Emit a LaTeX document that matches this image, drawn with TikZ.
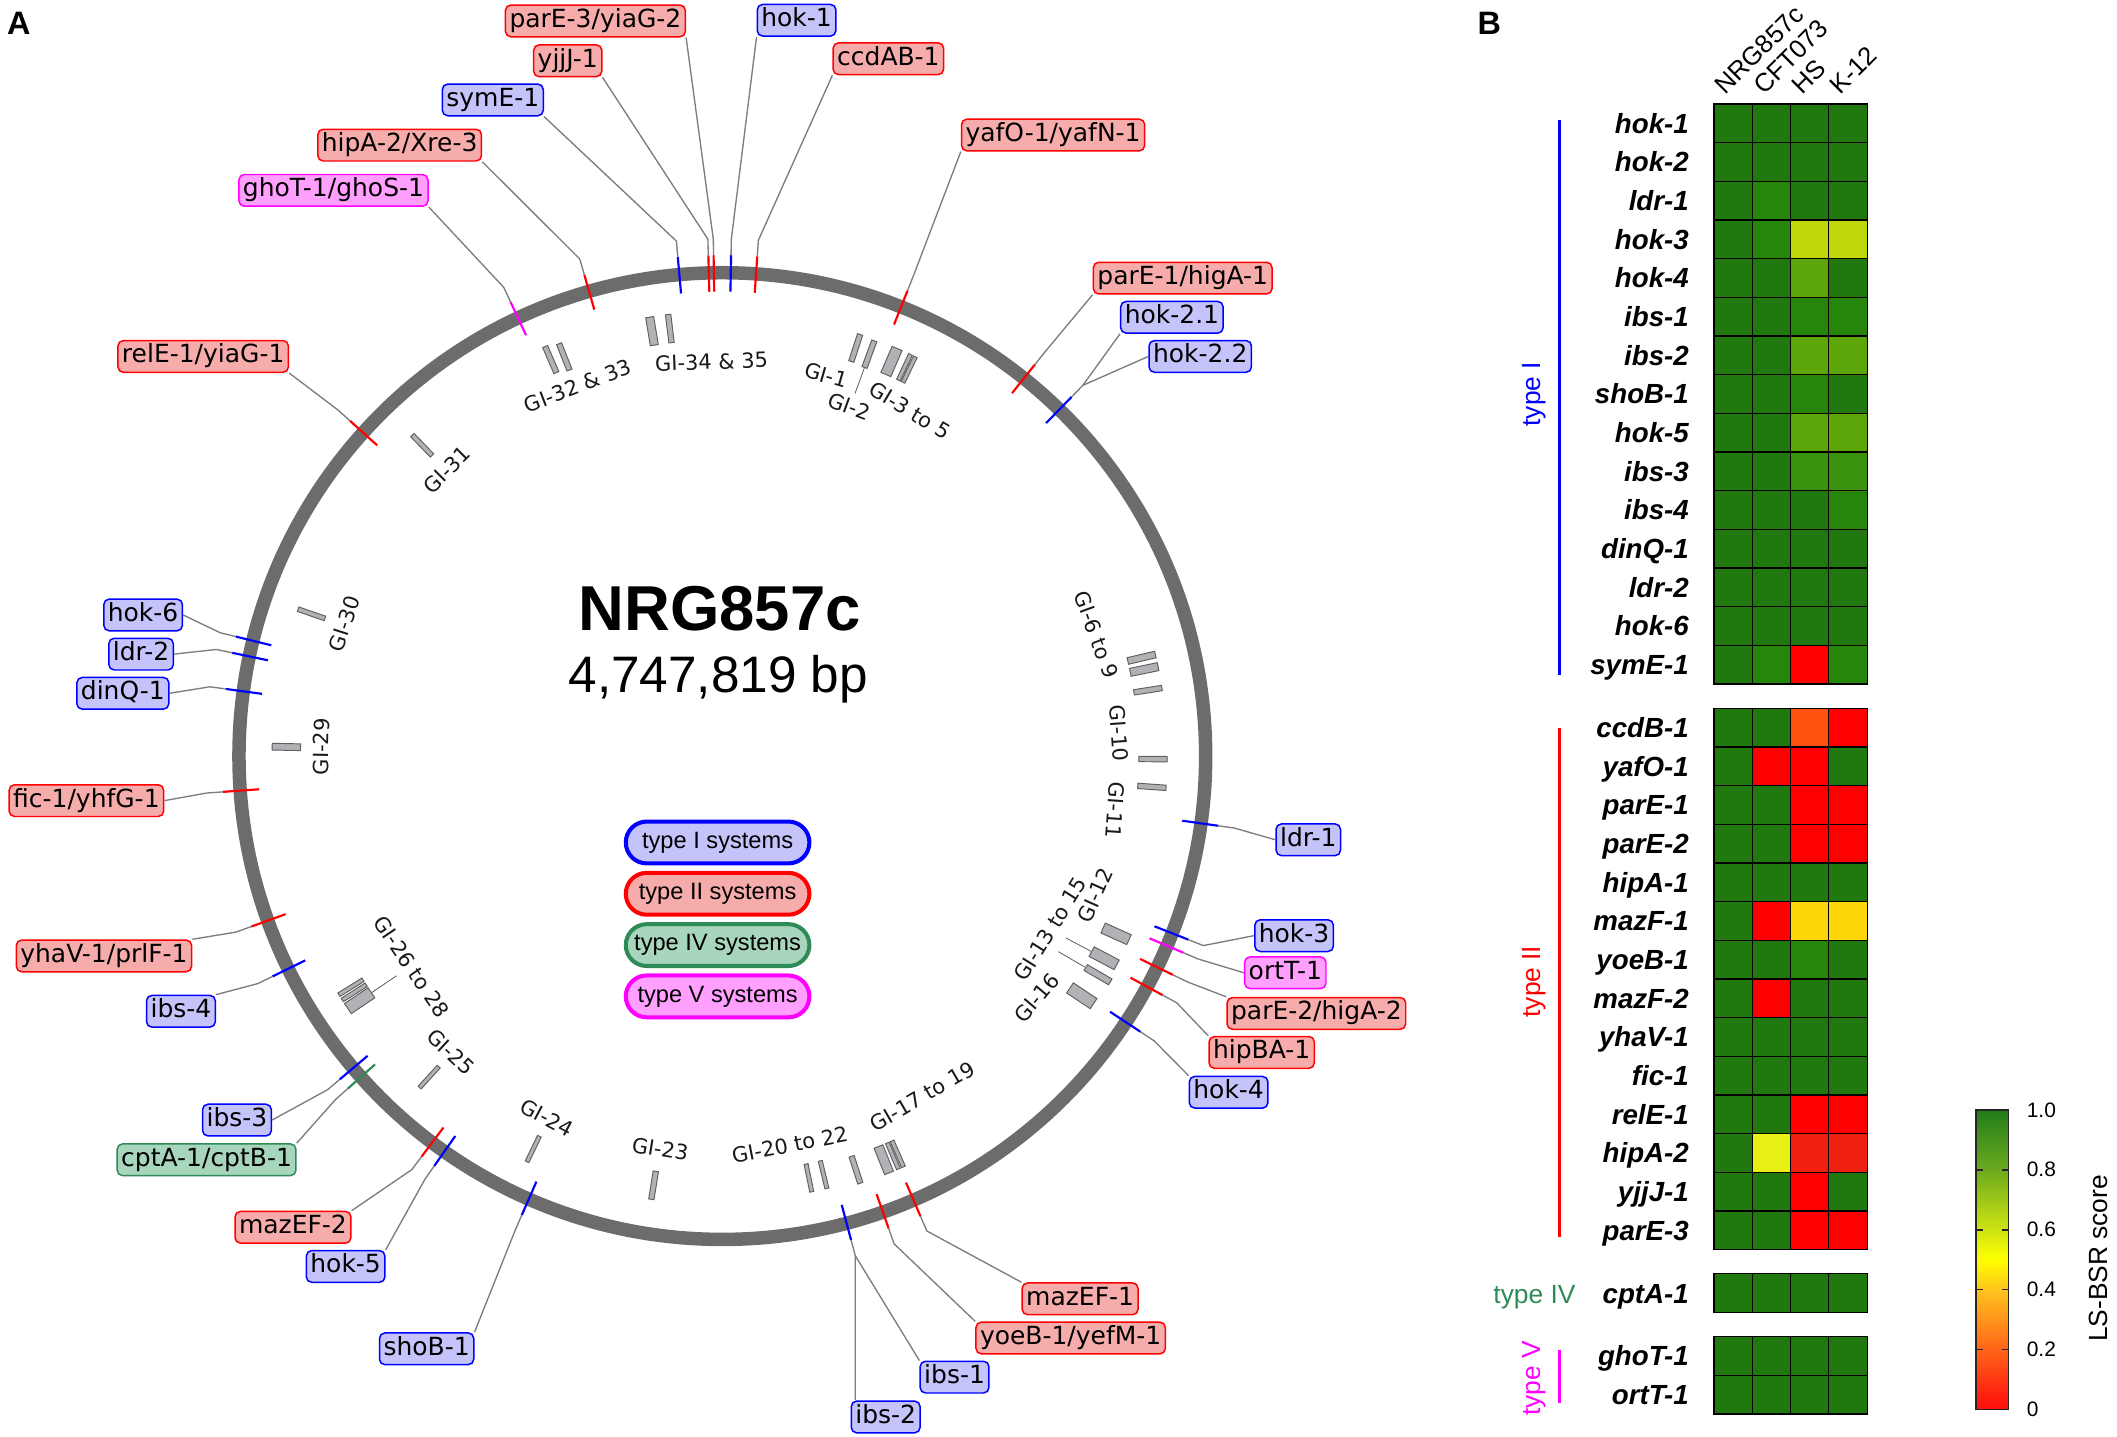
\documentclass[tikz,border=0pt]{standalone}
\usepackage{fontspec}
\setmainfont{Liberation Sans}
\newfontfamily\dvfont{DejaVu Sans}
\usetikzlibrary{shapes.misc}
\definecolor{ringgray}{RGB}{108,108,108}
\definecolor{lblue}{RGB}{196,196,250}
\definecolor{lred}{RGB}{247,172,172}
\definecolor{lmag}{RGB}{255,160,255}
\definecolor{lgreen}{RGB}{168,214,188}
\definecolor{tblue}{RGB}{0,0,255}
\definecolor{tred}{RGB}{255,0,0}
\definecolor{tmag}{RGB}{255,0,255}
\definecolor{tgreen}{RGB}{46,139,87}
\definecolor{conngray}{RGB}{125,125,125}
\definecolor{gibord}{RGB}{95,95,95}
\definecolor{gifill}{RGB}{178,178,182}
\definecolor{gitext}{RGB}{25,25,25}
\definecolor{hD}{RGB}{33,120,14}
\definecolor{hM}{RGB}{38,134,10}
\definecolor{hMt}{RGB}{56,146,14}
\definecolor{hL}{RGB}{93,166,10}
\definecolor{hYG}{RGB}{190,216,12}
\definecolor{hR}{RGB}{255,0,0}
\definecolor{hRt}{RGB}{240,32,16}
\definecolor{hOR}{RGB}{255,82,16}
\definecolor{hGO}{RGB}{255,214,10}
\definecolor{hYE}{RGB}{232,240,22}
\definecolor{cbA}{RGB}{255,12,12}
\definecolor{cbB}{RGB}{255,100,24}
\definecolor{cbC}{RGB}{255,196,30}
\definecolor{cbD}{RGB}{255,255,0}
\definecolor{cbE}{RGB}{205,228,18}
\definecolor{cbF}{RGB}{108,170,30}
\definecolor{cbG}{RGB}{34,124,26}
\tikzset{
 lbl/.style={rectangle, rounded corners=4pt, line width=1.1pt, inner xsep=3pt, inner ysep=3pt, text height=13.5pt, text depth=4pt, font=\dvfont\fontsize{18.5}{20}\selectfont},
 tI/.style={lbl, fill=lblue, draw=tblue},
 tII/.style={lbl, fill=lred, draw=tred},
 tIV/.style={lbl, fill=lgreen, draw=tgreen},
 tV/.style={lbl, fill=lmag, draw=tmag},
 tickline/.style={line width=1.6pt},
 conn/.style={draw=conngray, line width=1pt},
 gibar/.style={rectangle, draw=gibord, fill=gifill, line width=0.7pt, inner sep=0pt},
 gilbl/.style={font=\dvfont\fontsize{15.5}{16}\selectfont, text=gitext, inner sep=0pt},
 gilead/.style={draw=gibord, line width=0.6pt},
 pill/.style={rounded rectangle, minimum width=136pt, minimum height=31pt, line width=3pt, inner sep=0pt, font=\fontsize{17.5}{18}\selectfont},
 hmcell/.style={draw=black, line width=0.9pt},
 hmlbl/.style={anchor=base east, inner sep=0pt, font=\bfseries\itshape\fontsize{20.5}{22}\selectfont},
 hmhead/.style={anchor=base west, rotate=45, inner sep=0pt, font=\fontsize{19}{21}\selectfont},
 grp/.style={inner sep=0pt, font=\fontsize{19.5}{20}\selectfont},
 cblbl/.style={anchor=west, inner sep=0pt, font=\fontsize{15.5}{16}\selectfont},
}
\newcommand\mytick[3]{%
  \coordinate (#1o) at ([shift={(535,560)}]#2:371);
  \coordinate (#1i) at ([shift={(535,560)}]#2:344);
  \coordinate (#1e) at ([shift={(535,560)}]#2:383);
  \draw[tickline,#3] (#1o) -- (#1i);}
\newcommand\mygib[4]{%
  \node[gibar, minimum width=21pt, minimum height=#4pt, rotate={-(#2)}] (#1) at ([shift={(535,560)}]#2:#3) {};}
\newcommand\hmrow[7]{%
  \pgfmathsetmacro\hmy{#2}%
  \node[hmlbl] (hl#1) at ({1251},{\hmy+21.6}) {#3};
  \filldraw[hmcell,fill=#4] (1269.5,\hmy) rectangle ++(28.35,28.64);
  \filldraw[hmcell,fill=#5] (1297.85,\hmy) rectangle ++(28.35,28.64);
  \filldraw[hmcell,fill=#6] (1326.2,\hmy) rectangle ++(28.35,28.64);
  \filldraw[hmcell,fill=#7] (1354.55,\hmy) rectangle ++(28.35,28.64);}
\begin{document}
\begin{tikzpicture}[x=1pt,y=-1pt]
\useasboundingbox (0,0) rectangle (1568,1064);
% panel letters
\node[font=\bfseries\fontsize{24}{24}\selectfont, inner sep=0pt] (pA) at (14,17) {A};
\node[font=\bfseries\fontsize{24}{24}\selectfont, inner sep=0pt] (pB) at (1103,17) {B};
% ring
\coordinate (C) at (535,560);
\draw[ringgray, line width=10pt] (C) circle [radius=358];
% title
\node[font=\bfseries\fontsize{47}{47}\selectfont, anchor=base, inner sep=0pt] (title) at (533,467) {NRG857c};
\node[font=\fontsize{38}{38}\selectfont, anchor=base, inner sep=0pt] (gsize) at (532,513) {4,747,819 bp};
% legend
\node[pill, fill=lblue, draw=tblue] (lg1) at (531.5,624) {type I systems};
\node[pill, fill=lred, draw=tred] (lg2) at (531.5,662) {type II systems};
\node[pill, fill=lgreen, draw=tgreen] (lg3) at (531.5,700) {type IV systems};
\node[pill, fill=lmag, draw=tmag] (lg4) at (531.5,738) {type V systems};
% genomic island bars
\mygib{gi34a}{-99.4}{319}{6}
\mygib{gi34b}{-97.0}{319}{4}
\mygib{gi32a}{-113.4}{320}{4}
\mygib{gi32b}{-111.6}{318}{4}
\mygib{gi31}{-134.0}{320}{3.5}
\mygib{gi30}{-160.9}{322}{3.5}
\mygib{gi29}{-178.8}{323}{5}
\mygib{gi26a}{146.0}{324}{9}
\mygib{gi26b}{147.3}{324}{3}
\mygib{gi26c}{148.1}{324}{3}
\mygib{gi25}{132.4}{322}{3}
\mygib{gi24}{115.7}{323}{3}
\mygib{gi23}{99.1}{322}{4}
\mygib{gi20a}{78.4}{319}{3}
\mygib{gi20b}{76.4}{319}{3}
\mygib{gi20c}{72.1}{322}{4}
\mygib{gi17a}{68.2}{322}{7}
\mygib{gi17b}{66.9}{322}{3}
\mygib{gi17c}{66.2}{322}{3}
\mygib{gi16}{33.7}{320}{9}
\mygib{gi13a}{27.9}{320}{8}
\mygib{gi13b}{30.2}{322}{5}
\mygib{gi12}{24.3}{320}{8}
\mygib{gi11}{4.1}{319}{4}
\mygib{gi10}{0.4}{319}{4}
\mygib{gi6a}{-13.2}{319}{5}
\mygib{gi6b}{-11.6}{319}{6}
\mygib{gi6c}{-8.8}{319}{4}
\mygib{gi1}{-71.9}{318}{4}
\mygib{gi2}{-69.9}{317}{4}
\mygib{gi3a}{-66.8}{318}{8}
\mygib{gi3b}{-64.9}{318}{3}
\mygib{gi3c}{-64.2}{318}{3}
% GI labels
\node[gilbl, rotate=2] (l34) at (527,268) {GI-34 \& 35};
\node[gilbl, rotate=21] (l32) at (428,286) {GI-32 \& 33};
\node[gilbl, rotate=45] (l31) at (331,348) {GI-31};
\node[gilbl, rotate=72] (l30) at (255,462) {GI-30};
\node[gilbl, rotate=89] (l29) at (238,553) {GI-29};
\node[gilbl, rotate=-56] (l26) at (305,716) {GI-26 to 28};
\node[gilbl, rotate=-43] (l25) at (334,779) {GI-25};
\node[gilbl, rotate=-28] (l24) at (405,828) {GI-24};
\node[gilbl, rotate=-9] (l23) at (489,851) {GI-23};
\node[gilbl, rotate=11] (l20) at (585,848) {GI-20 to 22};
\node[gilbl, rotate=30] (l17) at (683,812) {GI-17 to 19};
\node[gilbl, rotate=50] (l16) at (768,739) {GI-16};
\node[gilbl, rotate=58] (l13) at (778,688) {GI-13 to 15};
\node[gilbl, rotate=66] (l12) at (811,663) {GI-12};
\node[gilbl, rotate=-94] (l11) at (826,600) {GI-11};
\node[gilbl, rotate=-86] (l10) at (829,543) {GI-10};
\node[gilbl, rotate=-70] (l6) at (812,470) {GI-6 to 9};
\node[gilbl, rotate=-16] (l1) at (612,278) {GI-1};
\node[gilbl, rotate=-20] (l2) at (629,301) {GI-2};
\node[gilbl, rotate=-31] (l3) at (674,304) {GI-3 to 5};
% GI leaders
\coordinate (ld26) at ([shift={(535,560)}]146:291);
\coordinate (ld13a) at ([shift={(535,560)}]27.9:288);
\coordinate (ld13b) at ([shift={(535,560)}]30.2:288);
\coordinate (ld2) at ([shift={(535,560)}]-69.9:286);
\draw[gilead] (gi26a.west) -- (ld26);
\draw[gilead] (gi13a.west) -- (ld13a);
\draw[gilead] (gi13b.west) -- (ld13b);
\draw[gilead] (gi2.west) -- (ld2);
% ticks
\mytick{pare3}{-91.0}{tred}
\mytick{yjjj}{-91.6}{tred}
\mytick{hok1}{-89.0}{tblue}
\mytick{ccdab}{-86.0}{tred}
\mytick{syme}{-95.1}{tblue}
\mytick{hipa2}{-106.0}{tred}
\mytick{ghot}{-115.0}{tmag}
\mytick{yafo}{-68.3}{tred}
\mytick{pare1}{-51.4}{tred}
\mytick{hok2}{-45.8}{tblue}
\mytick{rele}{-138.0}{tred}
\mytick{hok6}{-166.2}{tblue}
\mytick{ldr2}{-168.1}{tblue}
\mytick{dinq}{-172.3}{tblue}
\mytick{fic}{175.9}{tred}
\mytick{yhav}{160.1}{tred}
\mytick{ibs4}{153.9}{tblue}
\mytick{ibs3}{139.8}{tblue}
\mytick{cpta}{138.4}{tgreen}
\mytick{mazef2}{126.9}{tred}
\mytick{hok5}{125.1}{tblue}
\mytick{shob}{113.6}{tblue}
\mytick{ibs12}{75.1}{tblue}
\mytick{yoeb}{70.6}{tred}
\mytick{mazef1}{66.7}{tred}
\mytick{ldr1}{8.0}{tblue}
\mytick{hok3}{21.5}{tblue}
\mytick{ortt}{23.1}{tmag}
\mytick{pare2}{25.9}{tred}
\mytick{hipba}{28.5}{tred}
\mytick{hok4}{33.4}{tblue}
% labels
\node[tII] (pare3L) at (441,15.5) {parE-3/yiaG-2};
\node[tII] (yjjjL) at (420.5,45) {yjjJ-1};
\node[tI] (hok1L) at (590,15) {hok-1};
\node[tII] (ccdabL) at (658,43.5) {ccdAB-1};
\node[tI] (symeL) at (365,74) {symE-1};
\node[tII] (yafoL) at (780,100) {yafO-1/yafN-1};
\node[tII] (hipa2L) at (296,107.5) {hipA-2/Xre-3};
\node[tV] (ghotL) at (247,141) {ghoT-1/ghoS-1};
\node[tII] (pare1L) at (876,206) {parE-1/higA-1};
\node[tI] (hok21L) at (868,235) {hok-2.1};
\node[tI] (hok22L) at (889,264) {hok-2.2};
\node[tII] (releL) at (150.5,264) {relE-1/yiaG-1};
\node[tI] (hok6L) at (106,455.5) {hok-6};
\node[tI] (ldr2L) at (104.5,484.5) {ldr-2};
\node[tI] (dinqL) at (91,513.5) {dinQ-1};
\node[tII] (ficL) at (64,593) {fic-1/yhfG-1};
\node[tII] (yhavL) at (77,708) {yhaV-1/prlF-1};
\node[tI] (ibs4L) at (134,749) {ibs-4};
\node[tI] (ibs3L) at (175.5,829.6) {ibs-3};
\node[tIV] (cptaL) at (153,859) {cptA-1/cptB-1};
\node[tII] (mazef2L) at (217,909) {mazEF-2};
\node[tI] (hok5L) at (256,938) {hok-5};
\node[tI] (shobL) at (316,999) {shoB-1};
\node[tI] (ibs2L) at (656,1049.5) {ibs-2};
\node[tI] (ibs1L) at (707,1020) {ibs-1};
\node[tII] (yoebL) at (793,991) {yoeB-1/yefM-1};
\node[tII] (mazef1L) at (800,962) {mazEF-1};
\node[tI] (hok4L) at (910,809) {hok-4};
\node[tII] (hipbaL) at (934.5,779.5) {hipBA-1};
\node[tII] (pare2L) at (975,750.6) {parE-2/higA-2};
\node[tV] (orttL) at (952,720.5) {ortT-1};
\node[tI] (hok3L) at (958.5,693) {hok-3};
\node[tI] (ldr1L) at (969,622) {ldr-1};
% connectors
\draw[conn] (pare3o) -- (pare3e) -- (pare3L.south east);
\draw[conn] (yjjjo) -- (yjjje) -- (yjjjL.south east);
\draw[conn] (hok1o) -- (hok1e) -- (hok1L.south west);
\draw[conn] (ccdabo) -- (ccdabe) -- (ccdabL.south west);
\draw[conn] (symeo) -- (symee) -- (symeL.south east);
\draw[conn] (yafoo) -- (yafoe) -- (yafoL.south west);
\draw[conn] (hipa2o) -- (hipa2e) -- (hipa2L.south east);
\draw[conn] (ghoto) -- (ghote) -- (ghotL.south east);
\draw[conn] (pare1o) -- (pare1e) -- (pare1L.south west);
\draw[conn] (hok2o) -- (hok2e) -- (hok21L.south west);
\draw[conn] (hok2e) -- (hok22L.west);
\draw[conn] (releo) -- (relee) -- (releL.south east);
\draw[conn] (hok6o) -- (hok6e) -- (hok6L.east);
\draw[conn] (ldr2o) -- (ldr2e) -- (ldr2L.east);
\draw[conn] (dinqo) -- (dinqe) -- (dinqL.east);
\draw[conn] (fico) -- (fice) -- (ficL.east);
\draw[conn] (yhavo) -- (yhave) -- (yhavL.north east);
\draw[conn] (ibs4o) -- (ibs4e) -- (ibs4L.north east);
\draw[conn] (ibs3o) -- (ibs3e) -- (ibs3L.east);
\draw[conn] (cptao) -- (cptae) -- (cptaL.north east);
\draw[conn] (mazef2o) -- (mazef2e) -- (mazef2L.north east);
\draw[conn] (hok5o) -- (hok5e) -- (hok5L.north east);
\draw[conn] (shobo) -- (shobe) -- (shobL.north east);
\draw[conn] (ibs12o) -- (ibs12e) -- (ibs12e |- ibs2L.north);
\draw[conn] (ibs12e) -- (ibs1L.north west);
\draw[conn] (yoebo) -- (yoebe) -- (yoebL.north west);
\draw[conn] (mazef1o) -- (mazef1e) -- (mazef1L.north west);
\draw[conn] (ldr1o) -- (ldr1e) -- (ldr1L.west);
\draw[conn] (hok3o) -- (hok3e) -- (hok3L.west);
\draw[conn] (ortto) -- (ortte) -- (orttL.west);
\draw[conn] (pare2o) -- (pare2e) -- (pare2L.north west);
\draw[conn] (hipbao) -- (hipbae) -- (hipbaL.north west);
\draw[conn] (hok4o) -- (hok4e) -- (hok4L.north west);
% ===== panel B =====
\node[hmhead] (hN) at (1278,71) {NRG857c};
\node[hmhead] (hC) at (1306.5,71) {CFT073};
\node[hmhead] (hH) at (1335,71) {HS};
\node[hmhead] (hK) at (1363,71) {K-12};
\foreach \nm/\ca/\cb/\cc/\cd [count=\rw from 0] in {hok-1/hD/hD/hD/hD, hok-2/hD/hD/hD/hD, ldr-1/hD/hM/hD/hD, hok-3/hD/hM/hYG/hYG, hok-4/hD/hD/hL/hD, ibs-1/hD/hD/hM/hM, ibs-2/hD/hD/hL/hL, shoB-1/hD/hD/hM/hD, hok-5/hD/hD/hL/hL, ibs-3/hD/hD/hMt/hMt, ibs-4/hD/hD/hD/hM, dinQ-1/hD/hD/hD/hD, ldr-2/hD/hD/hD/hD, hok-6/hD/hD/hD/hD, symE-1/hD/hM/hR/hM}
 {\hmrow{I\rw}{77+28.64*\rw}{\nm}{\ca}{\cb}{\cc}{\cd}}
\foreach \nm/\ca/\cb/\cc/\cd [count=\rw from 0] in {ccdB-1/hD/hD/hOR/hR, yafO-1/hD/hR/hR/hD, parE-1/hD/hD/hR/hR, parE-2/hD/hD/hR/hR, hipA-1/hD/hD/hD/hD, mazF-1/hD/hR/hGO/hGO, yoeB-1/hD/hD/hM/hD, mazF-2/hD/hR/hD/hD, yhaV-1/hD/hD/hD/hD, fic-1/hD/hD/hD/hD, relE-1/hD/hD/hR/hR, hipA-2/hD/hYE/hRt/hRt, yjjJ-1/hD/hD/hR/hD, parE-3/hD/hD/hR/hR}
 {\hmrow{II\rw}{524.6+28.64*\rw}{\nm}{\ca}{\cb}{\cc}{\cd}}
\hmrow{IV0}{943.5}{cptA-1}{hD}{hD}{hD}{hD}
\hmrow{V0}{990}{ghoT-1}{hD}{hD}{hD}{hD}
\hmrow{V1}{1018.64}{ortT-1}{hD}{hD}{hD}{hD}
% groups
\draw[tblue, line width=2.5pt] (1155,89) -- (1155,500);
\node[grp, text=tblue, rotate=90] (gI) at (1136,292) {type I};
\draw[tred, line width=2.5pt] (1155,539) -- (1155,916);
\node[grp, text=tred, rotate=90] (gII) at (1136,727) {type II};
\node[grp, text=tgreen] (gIV) at (1136.5,961) {type IV};
\draw[tmag, line width=2.5pt] (1155,1000) -- (1155,1039);
\node[grp, text=tmag, rotate=90] (gV) at (1136,1021) {type V};
% colour bar
\shade[top color=cbB, bottom color=cbA] (1463.7,999.6) rectangle (1487.6,1044);
\shade[top color=cbC, bottom color=cbB] (1463.7,955.2) rectangle (1487.6,999.6);
\shade[top color=cbD, bottom color=cbC] (1463.7,933) rectangle (1487.6,955.2);
\shade[top color=cbE, bottom color=cbD] (1463.7,910.8) rectangle (1487.6,933);
\shade[top color=cbF, bottom color=cbE] (1463.7,866.4) rectangle (1487.6,910.8);
\shade[top color=cbG, bottom color=cbF] (1463.7,822) rectangle (1487.6,866.4);
\draw[line width=1.2pt, black!85] (1463.7,822) rectangle (1487.6,1044);
\foreach \v in {0.2,0.4,0.6,0.8} {
  \draw[line width=1.2pt, black!85] (1463.7,{1044-222*\v}) -- ++(5,0);
  \draw[line width=1.2pt, black!85] (1487.6,{1044-222*\v}) -- ++(-5,0);}
\node[cblbl] (cb10) at (1501,822) {1.0};
\node[cblbl] (cb08) at (1501,866.4) {0.8};
\node[cblbl] (cb06) at (1501,910.8) {0.6};
\node[cblbl] (cb04) at (1501,955.2) {0.4};
\node[cblbl] (cb02) at (1501,999.6) {0.2};
\node[cblbl] (cb00) at (1501,1044) {0};
\node[grp, rotate=90] (cbt) at (1554,932) {LS-BSR score};
\end{tikzpicture}
\end{document}
